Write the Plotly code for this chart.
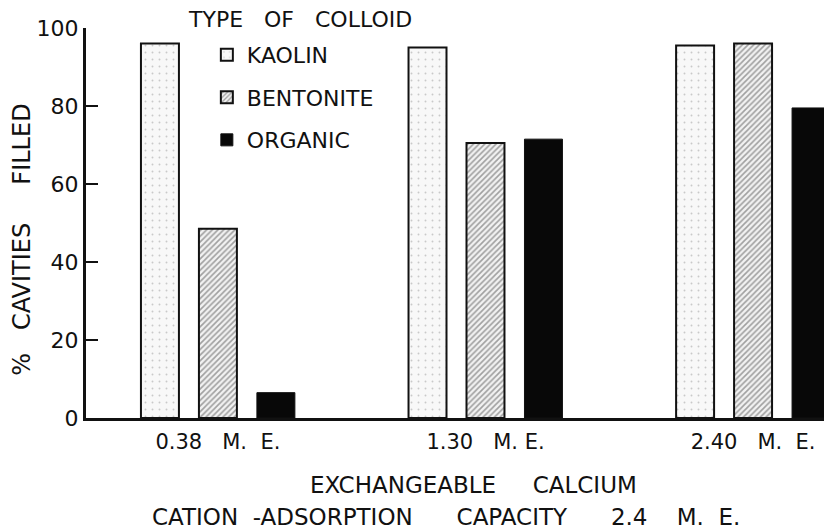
import plotly.graph_objects as go

NB = "\u00a0"

calcium = ["0.38" + NB * 3 + "M." + NB * 2 + "E.", "1.30" + NB * 3 + "M." + NB + "E.", "2.40" + NB * 3 + "M." + NB * 2 + "E."]
kaolin = [96, 95, 95.5]
bentonite = [48.5, 70.5, 96]
organic = [6.5, 71.5, 79.5]

FONT = "DejaVu Sans"
INK = "#111111"

fig = go.Figure()
fig.add_trace(
    go.Bar(
        x=calcium,
        y=kaolin,
        name="KAOLIN",
        legendgroup="k",
        marker=dict(
            color="#f8f8f8",
            line=dict(color=INK, width=2),
            pattern=dict(shape=".", size=7, solidity=0.06, fgcolor="#999999", bgcolor="#f8f8f8"),
        ),
    )
)
fig.add_trace(
    go.Bar(
        x=calcium,
        y=bentonite,
        name="BENTONITE",
        legendgroup="b",
        marker=dict(
            color="#e6e6e6",
            line=dict(color=INK, width=2),
            pattern=dict(shape="/", size=4, solidity=0.4, fgcolor="#4d4d4d", bgcolor="#f2f2f2"),
        ),
    )
)
fig.add_trace(
    go.Bar(
        x=calcium,
        y=organic,
        name="ORGANIC",
        legendgroup="o",
        marker=dict(color="#080808", line=dict(color=INK, width=1)),
    )
)

# the page body keeps its default 8px margin, so the figure is 8px smaller
fig.update_layout(
    width=824,
    height=523,
    margin=dict(l=78, r=0, t=20, b=113),
    paper_bgcolor="white",
    plot_bgcolor="white",
    font=dict(family=FONT, size=21, color=INK),
    barmode="group",
    bargap=0.35,
    bargroupgap=0.345,
    showlegend=True,
    legend=dict(
        x=0.162,
        y=0.985,
        xanchor="left",
        yanchor="top",
        bgcolor="rgba(0,0,0,0)",
        tracegroupgap=11,
        font=dict(size=22),
    ),
    annotations=[
        dict(
            text="TYPE" + NB * 3 + "OF" + NB * 3 + "COLLOID",
            xref="paper", yref="paper", x=0.287, y=1.022,
            xanchor="center", yanchor="middle", showarrow=False,
            font=dict(size=22),
        ),
        dict(
            text="%" + NB * 3 + "CAVITIES" + NB * 5 + "FILLED",
            xref="paper", yref="paper", x=-0.085, y=0.456, textangle=-90,
            xanchor="center", yanchor="middle", showarrow=False,
            font=dict(size=24),
        ),
        dict(
            text="EXCHANGEABLE" + NB * 5 + "CALCIUM",
            xref="paper", yref="paper", x=0.519, y=-0.172,
            xanchor="center", yanchor="middle", showarrow=False,
            font=dict(size=23),
        ),
        dict(
            text="CATION" + NB * 2 + "-ADSORPTION" + NB * 6 + "CAPACITY" + NB * 6
            + "2.4" + NB * 4 + "M." + NB * 2 + "E.",
            xref="paper", yref="paper", x=0.483, y=-0.254,
            xanchor="center", yanchor="middle", showarrow=False,
            font=dict(size=23),
        ),
    ],
)

fig.update_xaxes(
    range=[-0.493, 2.295],
    showline=True,
    linecolor=INK,
    linewidth=3,
    ticks="",
    showgrid=False,
    automargin=False,
    tickfont=dict(size=21),
    ticklabelstandoff=3,
)
fig.update_yaxes(
    range=[0, 100],
    tickvals=[0, 20, 40, 60, 80, 100],
    showline=True,
    linecolor=INK,
    linewidth=3,
    ticks="inside",
    ticklen=12,
    tickwidth=2,
    tickcolor=INK,
    showgrid=False,
    zeroline=False,
    automargin=False,
    tickfont=dict(size=22),
)

fig.write_html("out.html")
